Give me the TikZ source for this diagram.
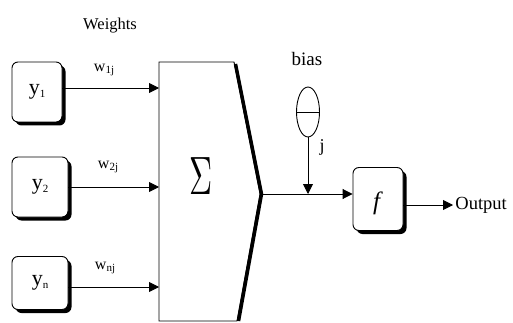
\documentclass[tikz,border=0pt]{standalone}
\usepackage{fontspec}
\setmainfont{Liberation Serif}
\usetikzlibrary{arrows.meta,shapes.geometric,shadows}
\begin{document}
\begin{tikzpicture}[x=1pt,y=-1pt,
  ybox/.style={draw,line width=0.9pt,rounded corners=6pt,fill=white,minimum width=50pt,minimum height=60pt,
    drop shadow={shadow xshift=3.5pt,shadow yshift=-3.5pt,fill=black,opacity=1},font=\fontsize{22}{22}\selectfont},
  arr/.style={line width=0.9pt,-{Triangle[length=10pt,width=10pt]}},
  lbl/.style={font=\fontsize{16}{16}\selectfont}]
\useasboundingbox (0,0) rectangle (513,323);
\node[font=\fontsize{16.5}{16.5}\selectfont] (wt) at (110,26) {Weights};
\node[ybox] (y1) at (37,92) {y\raisebox{-0.3ex}{\fontsize{11}{11}\selectfont 1}};
\node[ybox,minimum width=56pt] (y2) at (40,187) {y\raisebox{-0.3ex}{\fontsize{11}{11}\selectfont 2}};
\node[ybox,minimum width=56pt,minimum height=53pt] (yn) at (40,283) {y\raisebox{-0.3ex}{\fontsize{11}{11}\selectfont n}};
% summation block
\coordinate (s1) at (159,88);
\coordinate (s2) at (159,187);
\coordinate (sn) at (159,287);
\coordinate (tip) at (260,194);
\draw[line width=0.9pt,fill=white] (159,62) -- (234,62) -- (tip) -- (237,321) -- (159,321) -- cycle;
\draw[line width=3.5pt] (235.5,64) -- (261.5,194) -- (238.5,321);
\node[inner sep=0pt] (sig) at (201.5,176.5) {\scalebox{3.2}[5.4]{$\Sigma$}};
\draw[arr] (y1.east |- s1) -- (s1);
\draw[arr] (y2.east |- s2) -- (s2);
\draw[arr] (yn.east |- sn) -- (sn);
\node[lbl] (w1) at (104,70) {w\raisebox{-0.3ex}{\fontsize{11}{11}\selectfont 1j}};
\node[lbl] (w2) at (108,167) {w\raisebox{-0.3ex}{\fontsize{11}{11}\selectfont 2j}};
\node[lbl] (wn) at (105,268) {w\raisebox{-0.3ex}{\fontsize{11}{11}\selectfont nj}};
% bias
\node[font=\fontsize{19}{19}\selectfont] (bl) at (307,59) {bias};
\node[draw,ellipse,line width=0.9pt,minimum width=23pt,minimum height=50pt,inner sep=0pt] (bias) at (308,112) {};
\draw[line width=0.9pt] (bias.west) -- (bias.east);
\node[font=\fontsize{18}{18}\selectfont] (j) at (322,147) {j};
\coordinate (join) at (308,194);
\draw[arr] (bias.south) -- (join);
% activation
\node[ybox,minimum width=50pt,minimum height=63pt] (f) at (378,199) {};
\node[font=\fontsize{25}{25}\selectfont,inner sep=0pt] (fl) at (378,203) {\textit{f}};
\draw[arr] (tip) -- (f.west |- tip);
\draw[arr] (f.east |- 0,205) -- (453,205) node[right=1pt,font=\fontsize{18.5}{18.5}\selectfont,inner sep=1pt] (out) {Output};
\end{tikzpicture}
\end{document}
